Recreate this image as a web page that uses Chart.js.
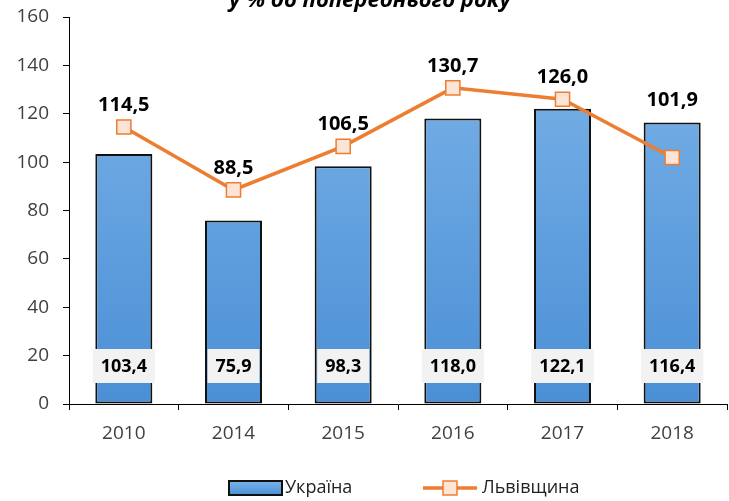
<!DOCTYPE html>
<html>
<head>
<meta charset="utf-8">
<script src="https://cdn.jsdelivr.net/npm/chart.js@4"></script>
<style>
  html, body { margin: 0; padding: 0; background: #fff; }
  #wrap { width: 729px; height: 501px; position: relative; }
</style>
</head>
<body>
<div id="wrap"><canvas id="c" width="729" height="501"></canvas></div>
<script>
const years   = ['2010', '2014', '2015', '2016', '2017', '2018'];
const ukraine = [103.4, 75.9, 98.3, 118.0, 122.1, 116.4];
const lviv    = [114.5, 88.5, 106.5, 130.7, 126.0, 101.9];
const yTicks  = [0, 20, 40, 60, 80, 100, 120, 140, 160];

const FONT = '"Open Sans", "Noto Sans", sans-serif';
const fmt = v => v.toFixed(1).replace('.', ',');

const barGrad = (ctx) => {
  const area = ctx.chart.chartArea;
  if (!area) return '#5b9bd5';
  const g = ctx.chart.ctx.createLinearGradient(0, area.top, 0, area.bottom);
  g.addColorStop(0, '#7db4e8');
  g.addColorStop(1, '#4a8fd6');
  return g;
};

// title (cut off at the top), value labels and the legend
const decor = {
  id: 'decor',
  afterDatasetsDraw(ch) {
    const { ctx, scales } = ch;
    const barMeta = ch.getDatasetMeta(0);
    const lineMeta = ch.getDatasetMeta(1);
    ctx.save();

    // title
    ctx.font = 'italic bold 22px ' + FONT;
    ctx.fillStyle = '#000';
    ctx.textAlign = 'center';
    ctx.textBaseline = 'alphabetic';
    ctx.fillText('у % до попереднього року', 370, 7);

    // line labels above points
    ctx.font = 'bold 20px ' + FONT;
    ctx.textBaseline = 'middle';
    lviv.forEach((v, i) => {
      const p = lineMeta.data[i];
      const top = Math.min(p.y, barMeta.data[i].y);
      ctx.fillText(fmt(v), p.x, top - 22);
    });

    // bar labels in grey boxes near the base
    ctx.font = 'bold 18px ' + FONT;
    const baseY = scales.y.getPixelForValue(0) - 38;
    ukraine.forEach((v, i) => {
      const b = barMeta.data[i];
      const t = fmt(v);
      const w = ctx.measureText(t).width + 16;
      ctx.fillStyle = '#f2f2f2';
      ctx.fillRect(b.x - w / 2, baseY - 17, w, 34);
      ctx.fillStyle = '#000';
      ctx.fillText(t, b.x, baseY + 1);
    });

    // legend
    ctx.font = '18px ' + FONT;
    ctx.textAlign = 'left';
    ctx.textBaseline = 'middle';
    const ly = 488;
    const g = ctx.createLinearGradient(0, ly - 7, 0, ly + 7);
    g.addColorStop(0, '#7db4e8');
    g.addColorStop(1, '#4a8fd6');
    ctx.fillStyle = g;
    ctx.fillRect(229, ly - 7, 53, 14);
    ctx.strokeStyle = '#111';
    ctx.lineWidth = 2;
    ctx.strokeRect(229, ly - 7, 53, 14);
    ctx.fillStyle = '#222';
    ctx.fillText('Україна', 285, ly);

    ctx.strokeStyle = '#ED7D31';
    ctx.lineWidth = 3.5;
    ctx.beginPath(); ctx.moveTo(423, ly); ctx.lineTo(477, ly); ctx.stroke();
    ctx.fillStyle = '#FCE4D6';
    ctx.fillRect(443, ly - 7, 14, 14);
    ctx.lineWidth = 1.5;
    ctx.strokeRect(443, ly - 7, 14, 14);
    ctx.fillStyle = '#222';
    ctx.fillText('Львівщина', 482, ly);

    ctx.restore();
  }
};

const noPad = s => {
  s.paddingTop = 0; s.paddingBottom = 0; s.paddingLeft = 0; s.paddingRight = 0;
};

new Chart(document.getElementById('c'), {
  type: 'bar',
  data: {
    labels: years,
    datasets: [
      {
        label: 'Україна',
        data: ukraine,
        backgroundColor: barGrad,
        borderColor: '#111',
        borderWidth: 2,
        borderSkipped: false,
        barPercentage: 0.52,
        categoryPercentage: 1,
        order: 1,
      },
      {
        type: 'line',
        label: 'Львівщина',
        data: lviv,
        borderColor: '#ED7D31',
        borderWidth: 3.5,
        pointStyle: 'rect',
        pointRadius: 10,
        pointBackgroundColor: '#FCE4D6',
        pointBorderColor: '#ED7D31',
        pointBorderWidth: 1.5,
        tension: 0,
        order: 0,
      }
    ]
  },
  options: {
    responsive: false,
    animation: false,
    layout: { autoPadding: false, padding: { top: 17, right: 2, left: 0, bottom: 57 } },
    plugins: { legend: { display: false }, tooltip: { enabled: false } },
    scales: {
      x: {
        afterFit: s => { s.height = 40; noPad(s); },
        grid: { drawOnChartArea: false, drawTicks: true, tickLength: 6, color: '#000' },
        border: { display: true, color: '#000', width: 1 },
        ticks: { color: '#404040', font: { family: FONT, size: 19 }, padding: 12 }
      },
      y: {
        min: 0, max: 160,
        afterFit: s => { s.width = 69; noPad(s); },
        afterBuildTicks: s => { s.ticks = yTicks.map(v => ({ value: v })); },
        grid: { drawOnChartArea: false, drawTicks: true, tickLength: 6, color: '#000' },
        border: { display: true, color: '#000', width: 1 },
        ticks: { color: '#404040', font: { family: FONT, size: 19 }, padding: 14 }
      }
    }
  },
  plugins: [decor]
});
</script>
</body>
</html>
